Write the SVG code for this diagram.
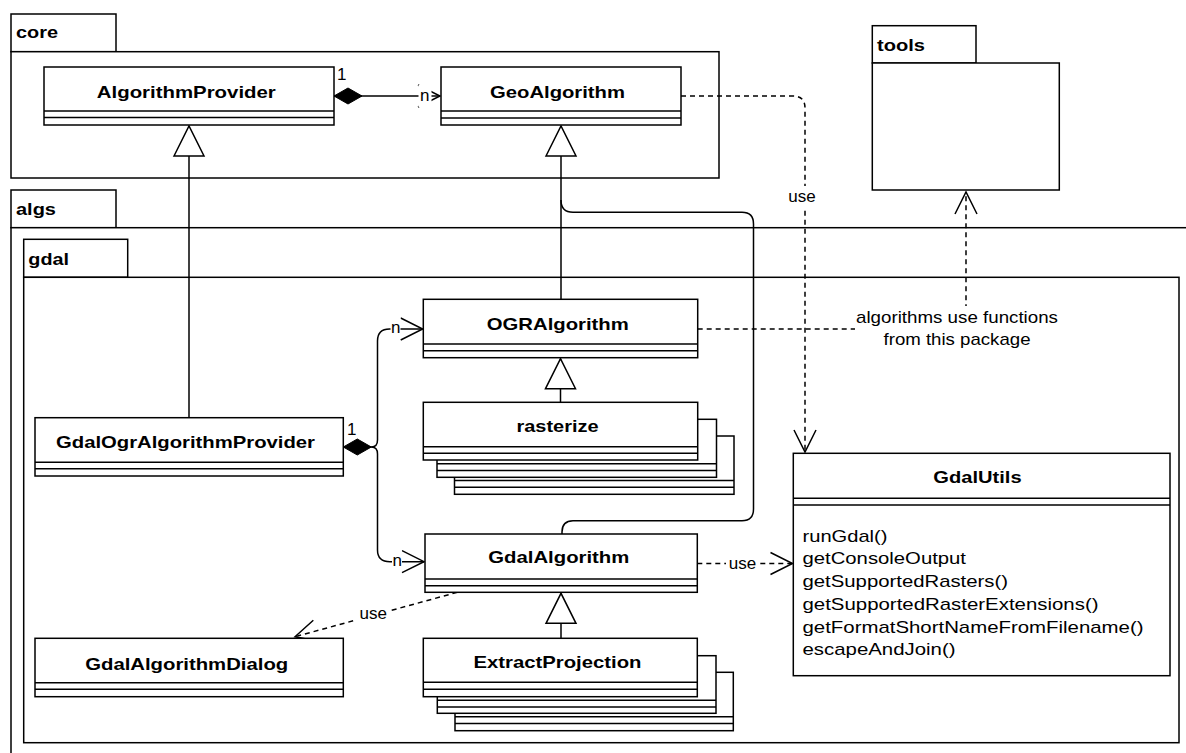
<svg xmlns="http://www.w3.org/2000/svg" width="1186" height="753" viewBox="0 0 1186 753">
<defs>
<style>
.pkg{fill:#fff;stroke:#000;stroke-width:1.5}
.box{fill:#fff;stroke:#000;stroke-width:1.5}
.dv{stroke:#000;stroke-width:1.5}
.ln{fill:none;stroke:#000;stroke-width:1.5}
.dash{fill:none;stroke:#000;stroke-width:1.5;stroke-dasharray:5 4}
.t{font-family:"Liberation Sans",Arial,Helvetica,sans-serif;font-size:17px;fill:#000}
.b{font-weight:bold}
.c{text-anchor:middle}
.bg{fill:#fff}
</style>
<marker id="open" markerUnits="userSpaceOnUse" markerWidth="26" markerHeight="26" refX="23" refY="13" orient="auto" overflow="visible"><path d="M1,2 L23,13 L1,24" fill="none" stroke="#000" stroke-width="1.5"/></marker>
<marker id="tri" markerUnits="userSpaceOnUse" markerWidth="32" markerHeight="32" refX="31" refY="16" orient="auto" overflow="visible"><path d="M1,1 L31,16 L1,31 Z" fill="#fff" stroke="#000" stroke-width="1.5"/></marker>
<marker id="diamond" markerUnits="userSpaceOnUse" markerWidth="30" markerHeight="18" refX="1" refY="9" orient="auto" overflow="visible"><path d="M1,9 L15,1 L29,9 L15,17 Z" fill="#000" stroke="#000" stroke-width="1"/></marker>
</defs>
<rect width="1186" height="753" fill="#fff"/>

<g id="packages">
  <g id="pkg-algs">
    <rect class="pkg" x="11" y="190" width="105" height="37.7"/>
    <rect class="pkg" x="11" y="227.7" width="1200" height="600"/>
    <text class="t b" x="16" y="215" textLength="40" lengthAdjust="spacingAndGlyphs">algs</text>
  </g>
  <g id="pkg-gdal">
    <rect class="pkg" x="23.7" y="239.3" width="104" height="38"/>
    <rect class="pkg" x="23.7" y="277.3" width="1155.3" height="465.4"/>
    <text class="t b" x="28.3" y="265" textLength="40.7" lengthAdjust="spacingAndGlyphs">gdal</text>
  </g>
  <g id="pkg-core">
    <rect class="pkg" x="11" y="14" width="105" height="37.7"/>
    <rect class="pkg" x="11" y="51.7" width="708" height="126.3"/>
    <text class="t b" x="16" y="38.3" textLength="42" lengthAdjust="spacingAndGlyphs">core</text>
  </g>
  <g id="pkg-tools">
    <rect class="pkg" x="872.3" y="25.7" width="103.7" height="37.3"/>
    <rect class="pkg" x="872.3" y="63" width="187" height="127"/>
    <text class="t b" x="877" y="50.7" textLength="48" lengthAdjust="spacingAndGlyphs">tools</text>
  </g>
</g>

<g id="connectors">
  <!-- generalizations -->
  <path class="ln" d="M189,417.7 V126" marker-end="url(#tri)"/>
  <path class="ln" d="M561,299.3 V126" marker-end="url(#tri)"/>
  <path class="ln" d="M560.5,402.3 V358.7" marker-end="url(#tri)"/>
  <path class="ln" d="M561,638.3 V593.3" marker-end="url(#tri)"/>
  <path class="ln" d="M562,534 V532 Q562,520.7 573,520.7 H742 Q753.5,520.7 753.5,509 V224 Q753.5,212.3 742,212.3 H573 Q561,212.3 561,200"/>
  <!-- compositions -->
  <path class="ln" d="M334,96 H440" marker-start="url(#diamond)" marker-end="url(#open)"/>
  <path class="ln" d="M343.3,447 H371.5 Q377.5,447 377.5,440 V341 Q377.5,329 389.5,329 H422.7" marker-start="url(#diamond)" marker-end="url(#open)"/>
  <path class="ln" d="M371.5,447 Q377.5,447 377.5,454 V550 Q377.5,561.7 390,561.7 H424" marker-end="url(#open)"/>
  <!-- dependencies -->
  <path class="dash" d="M681,96 H793 Q805,96 805,108 V452" marker-end="url(#open)"/>
  <path class="dash" d="M697.7,329 H966 V192" marker-end="url(#open)"/>
  <path class="dash" d="M697.3,563.5 H792.5" marker-end="url(#open)"/>
  <path class="dash" d="M457.3,592.3 L295,636.7" marker-end="url(#open)"/>
  <!-- labels -->
  <text class="t" x="337" y="79.5" font-size="16">1</text>
  <rect class="bg" x="418.5" y="85" width="13" height="22"/>
  <text class="t" x="420" y="100.5">n</text>
  <text class="t" x="347" y="435" font-size="16">1</text>
  <rect class="bg" x="390.5" y="318" width="10" height="17"/>
  <text class="t" x="391" y="332.5">n</text>
  <rect class="bg" x="392" y="551" width="10" height="17"/>
  <text class="t" x="392.5" y="565.7">n</text>
  <rect class="bg" x="789" y="186" width="30" height="24"/>
  <text class="t c" x="802" y="201.7">use</text>
  <rect class="bg" x="855" y="306" width="206" height="45"/>
  <text class="t c" x="957" y="323.3" textLength="202" lengthAdjust="spacingAndGlyphs">algorithms use functions</text>
  <text class="t c" x="957" y="345" textLength="147" lengthAdjust="spacingAndGlyphs">from this package</text>
  <rect class="bg" x="726" y="553" width="33" height="20"/>
  <text class="t c" x="742.5" y="569.3">use</text>
  <rect class="bg" x="356" y="605" width="35" height="19"/>
  <text class="t c" x="373.3" y="619.3">use</text>
</g>

<g id="AlgorithmProvider">
  <rect class="box" x="44" y="67" width="290" height="58"/>
  <line class="dv" x1="44" y1="111" x2="334" y2="111"/>
  <line class="dv" x1="44" y1="117.5" x2="334" y2="117.5"/>
  <text class="t b c" x="186.3" y="98" textLength="179" lengthAdjust="spacingAndGlyphs">AlgorithmProvider</text>
</g>
<g id="GeoAlgorithm">
  <rect class="box" x="441" y="67" width="240" height="58"/>
  <line class="dv" x1="441" y1="111" x2="681" y2="111"/>
  <line class="dv" x1="441" y1="118" x2="681" y2="118"/>
  <text class="t b c" x="557.5" y="97.5" textLength="135" lengthAdjust="spacingAndGlyphs">GeoAlgorithm</text>
</g>
<g id="OGRAlgorithm">
  <rect class="box" x="423.3" y="299.3" width="274.4" height="58.4"/>
  <line class="dv" x1="423.3" y1="344" x2="697.7" y2="344"/>
  <line class="dv" x1="423.3" y1="350.7" x2="697.7" y2="350.7"/>
  <text class="t b c" x="557.8" y="329.5" textLength="142" lengthAdjust="spacingAndGlyphs">OGRAlgorithm</text>
</g>
<g id="rasterize">
  <rect class="box" x="454.5" y="436" width="279.5" height="58.3"/>
  <line class="dv" x1="454.5" y1="480.5" x2="734" y2="480.5"/>
  <line class="dv" x1="454.5" y1="487.2" x2="734" y2="487.2"/>
  <rect class="box" x="437" y="419.3" width="279.5" height="58"/>
  <line class="dv" x1="437" y1="463.7" x2="716.5" y2="463.7"/>
  <line class="dv" x1="437" y1="470.4" x2="716.5" y2="470.4"/>
  <rect class="box" x="423.3" y="402.3" width="274.4" height="57.7"/>
  <line class="dv" x1="423.3" y1="446.7" x2="697.7" y2="446.7"/>
  <line class="dv" x1="423.3" y1="453.3" x2="697.7" y2="453.3"/>
  <text class="t b c" x="557.5" y="431.7" textLength="82" lengthAdjust="spacingAndGlyphs">rasterize</text>
</g>
<g id="GdalOgrAlgorithmProvider">
  <rect class="box" x="35" y="417.7" width="308.3" height="58.3"/>
  <line class="dv" x1="35" y1="462.3" x2="343.3" y2="462.3"/>
  <line class="dv" x1="35" y1="468.8" x2="343.3" y2="468.8"/>
  <text class="t b c" x="185.5" y="448.3" textLength="259" lengthAdjust="spacingAndGlyphs">GdalOgrAlgorithmProvider</text>
</g>
<g id="GdalAlgorithm">
  <rect class="box" x="425" y="534" width="272.3" height="58.3"/>
  <line class="dv" x1="425" y1="579" x2="697.3" y2="579"/>
  <line class="dv" x1="425" y1="585.7" x2="697.3" y2="585.7"/>
  <text class="t b c" x="558.8" y="563.3" textLength="141" lengthAdjust="spacingAndGlyphs">GdalAlgorithm</text>
</g>
<g id="ExtractProjection">
  <rect class="box" x="455" y="672.3" width="278.3" height="58.4"/>
  <line class="dv" x1="455" y1="716.8" x2="733.3" y2="716.8"/>
  <line class="dv" x1="455" y1="723.5" x2="733.3" y2="723.5"/>
  <rect class="box" x="437.3" y="655.7" width="278.7" height="57.6"/>
  <line class="dv" x1="437.3" y1="700.2" x2="716" y2="700.2"/>
  <line class="dv" x1="437.3" y1="706.9" x2="716" y2="706.9"/>
  <rect class="box" x="423.3" y="638.3" width="274" height="58.4"/>
  <line class="dv" x1="423.3" y1="682.3" x2="697.3" y2="682.3"/>
  <line class="dv" x1="423.3" y1="689.3" x2="697.3" y2="689.3"/>
  <text class="t b c" x="557.5" y="668.3" textLength="168" lengthAdjust="spacingAndGlyphs">ExtractProjection</text>
</g>
<g id="GdalAlgorithmDialog">
  <rect class="box" x="35" y="638.3" width="308.3" height="58.4"/>
  <line class="dv" x1="35" y1="682.7" x2="343.3" y2="682.7"/>
  <line class="dv" x1="35" y1="689.3" x2="343.3" y2="689.3"/>
  <text class="t b c" x="186.7" y="670" textLength="203" lengthAdjust="spacingAndGlyphs">GdalAlgorithmDialog</text>
</g>
<g id="GdalUtils">
  <rect class="box" x="793.3" y="453.3" width="376.7" height="222.4"/>
  <line class="dv" x1="793.3" y1="498.3" x2="1170" y2="498.3"/>
  <line class="dv" x1="793.3" y1="505" x2="1170" y2="505"/>
  <text class="t b c" x="977.5" y="483.3" textLength="88.3" lengthAdjust="spacingAndGlyphs">GdalUtils</text>
  <text class="t" x="802.5" y="541.7" textLength="85" lengthAdjust="spacingAndGlyphs">runGdal()</text>
  <text class="t" x="802.5" y="564.4" textLength="163.5" lengthAdjust="spacingAndGlyphs">getConsoleOutput</text>
  <text class="t" x="802.5" y="587.1" textLength="205.5" lengthAdjust="spacingAndGlyphs">getSupportedRasters()</text>
  <text class="t" x="802.5" y="609.8" textLength="296" lengthAdjust="spacingAndGlyphs">getSupportedRasterExtensions()</text>
  <text class="t" x="802.5" y="632.5" textLength="341" lengthAdjust="spacingAndGlyphs">getFormatShortNameFromFilename()</text>
  <text class="t" x="802.5" y="655.2" textLength="153" lengthAdjust="spacingAndGlyphs">escapeAndJoin()</text>
</g>
</svg>
